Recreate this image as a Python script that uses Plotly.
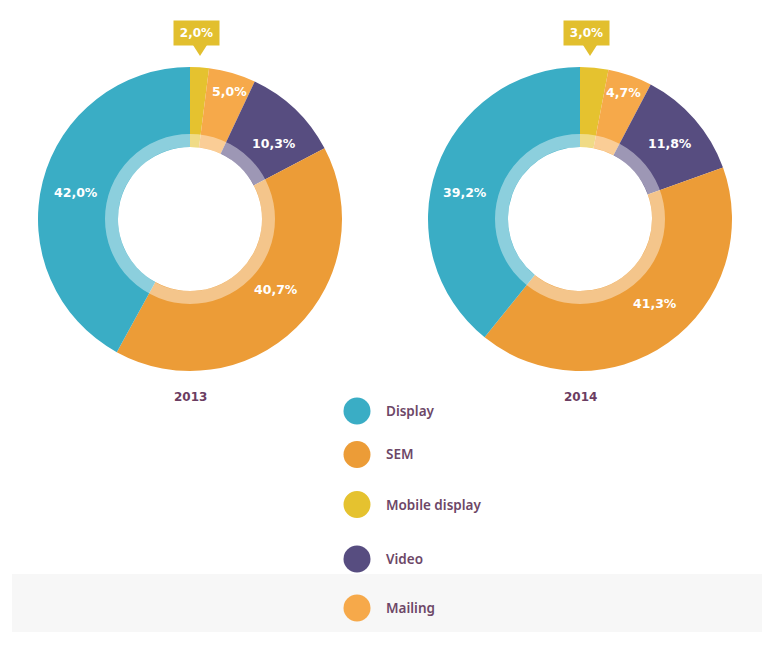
import plotly.graph_objects as go

# ---------------- data ----------------
categories = ["Mobile display", "Mailing", "Video", "SEM", "Display"]
values_2013 = [2.0, 5.0, 10.3, 40.7, 42.0]
values_2014 = [3.0, 4.7, 11.8, 41.3, 39.2]
years = ["2013", "2014"]
legend_order = ["Display", "SEM", "Mobile display", "Video", "Mailing"]

# ---------------- styles / layout constants ----------------
W, H = 778, 648
colors = {
    "Display": "#3aadc5",
    "SEM": "#ec9c37",
    "Mobile display": "#e5c22f",
    "Video": "#574d80",
    "Mailing": "#f6a94a",
}
callout_color = "#e2bf2e"
plum = "#6d4767"
year_color = "#6b3d62"

centers = [(190, 219), (580, 219)]
R_OUT, R_HOLE, R_RING = 152, 72, 85
label_pos = [
    {"Mailing": (229.5, 92), "Video": (274, 143), "SEM": (276, 289), "Display": (76, 192)},
    {"Mailing": (623, 93), "Video": (670, 143), "SEM": (655, 303), "Display": (465.5, 192)},
]
callouts = [(196.5, 33, 200), (586.5, 33, 590)]
year_y = 397
legend_circle_x, legend_text_x, legend_r = 357, 384, 13.5
legend_ys = [411, 454.5, 504.5, 559, 608]


def px(x):
    return x / W


def py(y):
    return 1 - y / H


def fmt(v):
    return f"{v:.1f}".replace(".", ",") + "%"


fig = go.Figure()
shapes = []
annotations = []

# background faint band
shapes.append(dict(type="rect", xref="paper", yref="paper",
                   x0=px(12), x1=px(762), y0=py(632), y1=py(574),
                   fillcolor="#f7f7f7", line=dict(width=0), layer="below"))

for i, vals in enumerate([values_2013, values_2014]):
    cx, cy = centers[i]
    fig.add_trace(go.Pie(
        values=vals,
        labels=categories,
        sort=False,
        direction="clockwise",
        rotation=0,
        hole=R_HOLE / R_OUT,
        marker=dict(colors=[colors[c] for c in categories], line=dict(width=0)),
        textinfo="none",
        hoverinfo="skip",
        showlegend=False,
        domain=dict(x=[px(cx - R_OUT), px(cx + R_OUT)],
                    y=[py(cy + R_OUT), py(cy - R_OUT)]),
    ))
    # lighter inner ring
    rm = (R_HOLE + R_RING) / 2
    shapes.append(dict(type="circle", xref="paper", yref="paper",
                       x0=px(cx - rm), x1=px(cx + rm), y0=py(cy + rm), y1=py(cy - rm),
                       line=dict(color="rgba(255,255,255,0.42)", width=R_RING - R_HOLE),
                       fillcolor="rgba(0,0,0,0)", layer="above"))
    # percentage labels
    for cat, v in zip(categories, vals):
        if cat == "Mobile display":
            bx, by, tipx = callouts[i]
            annotations.append(dict(
                x=px(bx), y=py(by), xref="paper", yref="paper", showarrow=False,
                text=f"<b>{fmt(v)}</b>", width=43, height=22, bgcolor=callout_color,
                font=dict(family="DejaVu Sans", size=12, color="white"),
                xanchor="center", yanchor="middle"))
            shapes.append(dict(type="path", xref="paper", yref="paper",
                               path=f"M {px(tipx - 8)},{py(43.5)} L {px(tipx + 8)},{py(43.5)} L {px(tipx)},{py(56)} Z",
                               fillcolor=callout_color, line=dict(width=0)))
        else:
            lx, ly = label_pos[i][cat]
            annotations.append(dict(
                x=px(lx), y=py(ly), xref="paper", yref="paper", showarrow=False,
                text=f"<b>{fmt(v)}</b>", align="center",
                font=dict(family="DejaVu Sans", size=12.5, color="white"),
                xanchor="center", yanchor="middle"))
    # year label
    annotations.append(dict(
        x=px(cx), y=py(year_y), xref="paper", yref="paper", showarrow=False,
        text=f"<b>{years[i]}</b>",
        font=dict(family="DejaVu Sans", size=12, color=year_color),
        xanchor="center", yanchor="middle"))

# legend
for cat, ly in zip(legend_order, legend_ys):
    shapes.append(dict(type="circle", xref="paper", yref="paper",
                       x0=px(legend_circle_x - legend_r), x1=px(legend_circle_x + legend_r),
                       y0=py(ly + legend_r), y1=py(ly - legend_r),
                       fillcolor=colors[cat], line=dict(width=0)))
    annotations.append(dict(
        x=px(legend_text_x), y=py(ly), xref="paper", yref="paper", showarrow=False,
        text=cat, font=dict(family="Noto Sans", size=13.5, color=plum, weight=600),
        xanchor="left", yanchor="middle"))

fig.update_layout(
    width=W, height=H, autosize=False,
    margin=dict(l=0, r=0, t=0, b=0),
    paper_bgcolor="white", plot_bgcolor="white",
    shapes=shapes, annotations=annotations,
    showlegend=False,
)

fig.write_html("out.html")
